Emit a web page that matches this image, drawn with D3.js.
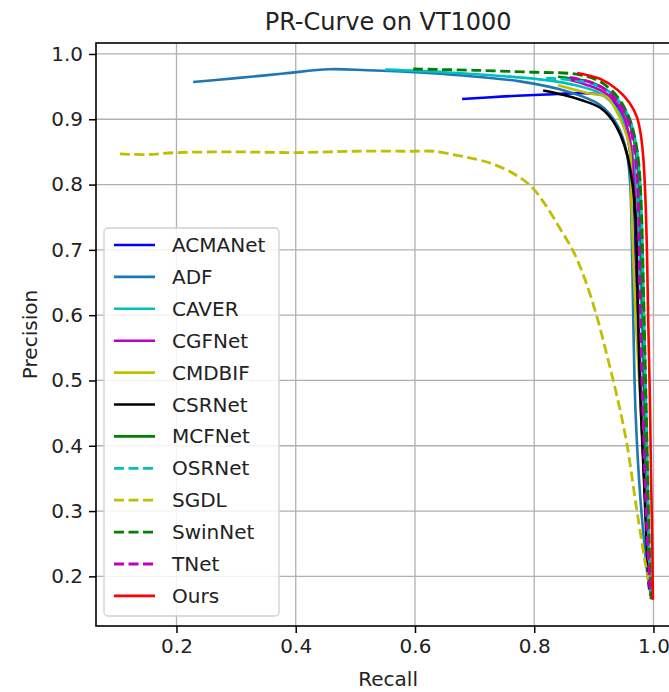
<!DOCTYPE html>
<html>
<head>
<meta charset="utf-8">
<script src="https://cdn.jsdelivr.net/npm/d3@7"></script>
<style>
  body { margin: 0; background: #fff; }
  text { font-family: "DejaVu Sans", sans-serif; fill: #222; }
  .grid line { stroke: #b0b0b0; stroke-width: 1.3; }
</style>
</head>
<body>
<svg id="chart"></svg>
<script>
// recall / precision pairs
const acmanet = [[0.679,0.931],[0.75,0.935],[0.82,0.938],[0.88,0.940],[0.91,0.938],[0.93,0.930],[0.945,0.910],[0.955,0.880],[0.962,0.840],[0.967,0.780],[0.970,0.680],[0.975,0.550],[0.982,0.400],[0.990,0.250],[0.994,0.180]];
const adf = [[0.228,0.957],[0.30,0.963],[0.38,0.970],[0.456,0.9766],[0.52,0.975],[0.60,0.972],[0.68,0.967],[0.776,0.958],[0.85,0.944],[0.91,0.922],[0.94,0.890],[0.955,0.850],[0.961,0.800],[0.964,0.700],[0.966,0.600],[0.970,0.450],[0.978,0.320],[0.988,0.220],[0.993,0.180]];
const caver = [[0.55,0.976],[0.65,0.972],[0.75,0.966],[0.82,0.960],[0.87,0.952],[0.91,0.940],[0.935,0.920],[0.952,0.893],[0.963,0.858],[0.970,0.810],[0.975,0.740],[0.980,0.600],[0.986,0.400],[0.992,0.220],[0.995,0.172]];
const cgfnet = [[0.852,0.962],[0.88,0.955],[0.91,0.945],[0.935,0.928],[0.950,0.905],[0.960,0.870],[0.966,0.820],[0.970,0.750],[0.974,0.600],[0.980,0.450],[0.987,0.300],[0.993,0.190]];
const cmdbif = [[0.84,0.952],[0.89,0.940],[0.922,0.934],[0.942,0.905],[0.955,0.875],[0.961,0.850],[0.963,0.777],[0.970,0.600],[0.978,0.470],[0.986,0.330],[0.994,0.184]];
const csrnet = [[0.815,0.944],[0.85,0.937],[0.88,0.929],[0.91,0.918],[0.93,0.900],[0.945,0.875],[0.956,0.845],[0.965,0.800],[0.970,0.750],[0.973,0.650],[0.977,0.500],[0.984,0.350],[0.990,0.220],[0.993,0.180]];
const mcfnet = [[0.84,0.965],[0.90,0.955],[0.935,0.935],[0.955,0.905],[0.967,0.870],[0.974,0.820],[0.978,0.750],[0.982,0.600],[0.987,0.400],[0.992,0.240],[0.995,0.170]];
const osrnet = [[0.82,0.963],[0.88,0.958],[0.92,0.945],[0.945,0.925],[0.960,0.900],[0.970,0.865],[0.976,0.820],[0.980,0.750],[0.984,0.600],[0.989,0.400],[0.994,0.200],[0.996,0.170]];
const sgdl = [[0.105,0.847],[0.15,0.846],[0.20,0.849],[0.30,0.850],[0.40,0.849],[0.50,0.851],[0.60,0.851],[0.63,0.851],[0.68,0.843],[0.726,0.833],[0.765,0.817],[0.795,0.797],[0.818,0.770],[0.843,0.733],[0.866,0.697],[0.885,0.655],[0.905,0.598],[0.923,0.535],[0.939,0.475],[0.955,0.405],[0.972,0.302],[0.989,0.206],[0.994,0.184]];
const swinnet = [[0.597,0.977],[0.70,0.975],[0.80,0.972],[0.87,0.969],[0.91,0.958],[0.94,0.934],[0.958,0.905],[0.968,0.875],[0.975,0.835],[0.979,0.780],[0.983,0.650],[0.988,0.450],[0.993,0.250],[0.996,0.165]];
const tnet = [[0.86,0.964],[0.90,0.955],[0.93,0.937],[0.952,0.910],[0.964,0.875],[0.971,0.830],[0.975,0.760],[0.978,0.600],[0.984,0.400],[0.990,0.250],[0.994,0.180]];
const ours = [[0.872,0.971],[0.91,0.962],[0.94,0.945],[0.96,0.925],[0.972,0.904],[0.979,0.875],[0.983,0.840],[0.986,0.790],[0.989,0.700],[0.991,0.600],[0.994,0.470],[0.996,0.350],[0.998,0.250],[0.999,0.164]];

const names = ['ACMANet','ADF','CAVER','CGFNet','CMDBIF','CSRNet','MCFNet','OSRNet','SGDL','SwinNet','TNet','Ours'];
const xTicks = [0.2, 0.4, 0.6, 0.8, 1.0];
const yTicks = [0.2, 0.3, 0.4, 0.5, 0.6, 0.7, 0.8, 0.9, 1.0];

const series = [
  {name: names[0], values: acmanet, color: '#0000ff', dashed: false},
  {name: names[1], values: adf, color: '#1f77b4', dashed: false},
  {name: names[2], values: caver, color: '#00bfbf', dashed: false},
  {name: names[3], values: cgfnet, color: '#bf00bf', dashed: false},
  {name: names[4], values: cmdbif, color: '#bfbf00', dashed: false},
  {name: names[5], values: csrnet, color: '#000000', dashed: false},
  {name: names[6], values: mcfnet, color: '#008000', dashed: false},
  {name: names[7], values: osrnet, color: '#00bfbf', dashed: true},
  {name: names[8], values: sgdl, color: '#bfbf00', dashed: true},
  {name: names[9], values: swinnet, color: '#008000', dashed: true},
  {name: names[10], values: tnet, color: '#bf00bf', dashed: true},
  {name: names[11], values: ours, color: '#ff0000', dashed: false}
];

const width = 669, height = 692;
const margin = {top: 43, left: 96, bottom: 66};
const plotRight = 680.3;
const fontSize = 20;

const svg = d3.select('#chart')
    .attr('width', width)
    .attr('height', height);

const x = d3.scaleLinear().domain([0.065, 1.045]).range([margin.left, plotRight]);
const y = d3.scaleLinear().domain([0.124, 1.0168]).range([height - margin.bottom, margin.top]);

// grid
const grid = svg.append('g').attr('class', 'grid');
grid.selectAll('.vg').data(xTicks).join('line')
    .attr('x1', d => x(d)).attr('x2', d => x(d))
    .attr('y1', y.range()[0]).attr('y2', y.range()[1]);
grid.selectAll('.hg').data(yTicks).join('line')
    .attr('x1', margin.left).attr('x2', plotRight)
    .attr('y1', d => y(d)).attr('y2', d => y(d));

// curves
const line = d3.line()
    .x(d => x(d[0]))
    .y(d => y(d[1]))
    .curve(d3.curveCatmullRom.alpha(0.5));

const lineWidth = d => d.dashed ? 2.8 : 2.6;
const dash = d => d.dashed ? '10,4.5' : null;

svg.append('g').selectAll('path')
  .data(series)
  .join('path')
    .attr('fill', 'none')
    .attr('stroke', d => d.color)
    .attr('stroke-width', lineWidth)
    .attr('stroke-dasharray', dash)
    .attr('d', d => line(d.values));

// axes
const xAxis = d3.axisBottom(x).tickValues(xTicks).tickFormat(d3.format('.1f')).tickSize(7).tickPadding(6);
const yAxis = d3.axisLeft(y).tickValues(yTicks).tickFormat(d3.format('.1f')).tickSize(7).tickPadding(6);

const xg = svg.append('g')
    .attr('transform', `translate(0,${y.range()[0]})`)
    .call(xAxis);
const yg = svg.append('g')
    .attr('transform', `translate(${margin.left},0)`)
    .call(yAxis);

[xg, yg].forEach(g => {
  g.select('.domain').remove();
  g.selectAll('.tick line').attr('stroke', '#000').attr('stroke-width', 1.5);
  g.selectAll('.tick text').attr('font-size', fontSize).attr('fill', '#222');
});

// spines (right one falls outside the picture)
svg.append('rect')
    .attr('x', margin.left).attr('y', margin.top)
    .attr('width', plotRight - margin.left)
    .attr('height', y.range()[0] - margin.top)
    .attr('fill', 'none').attr('stroke', '#000').attr('stroke-width', 1.6);

// title and labels
svg.append('text')
    .attr('x', (margin.left + plotRight) / 2).attr('y', 30)
    .attr('text-anchor', 'middle').attr('font-size', 24)
    .text('PR-Curve on VT1000');

svg.append('text')
    .attr('x', (margin.left + plotRight) / 2).attr('y', 686)
    .attr('text-anchor', 'middle').attr('font-size', fontSize)
    .text('Recall');

svg.append('text')
    .attr('transform', `translate(37,${(margin.top + y.range()[0]) / 2}) rotate(-90)`)
    .attr('text-anchor', 'middle').attr('font-size', fontSize)
    .text('Precision');

// legend
const legend = svg.append('g').attr('transform', 'translate(104,228)');
legend.append('rect')
    .attr('width', 175).attr('height', 388)
    .attr('rx', 4)
    .attr('fill', 'rgba(255,255,255,0.85)')
    .attr('stroke', '#d0d0d0')
    .attr('stroke-width', 1.3);

const item = legend.selectAll('.item')
  .data(series)
  .join('g')
    .attr('class', 'item')
    .attr('transform', (d, i) => `translate(0,${17 + i * 31.9})`);

item.append('line')
    .attr('x1', 10).attr('x2', 51)
    .attr('stroke', d => d.color)
    .attr('stroke-width', lineWidth)
    .attr('stroke-dasharray', dash);

item.append('text')
    .attr('x', 68).attr('dy', '0.35em')
    .attr('font-size', fontSize)
    .text(d => d.name);
</script>
</body>
</html>
